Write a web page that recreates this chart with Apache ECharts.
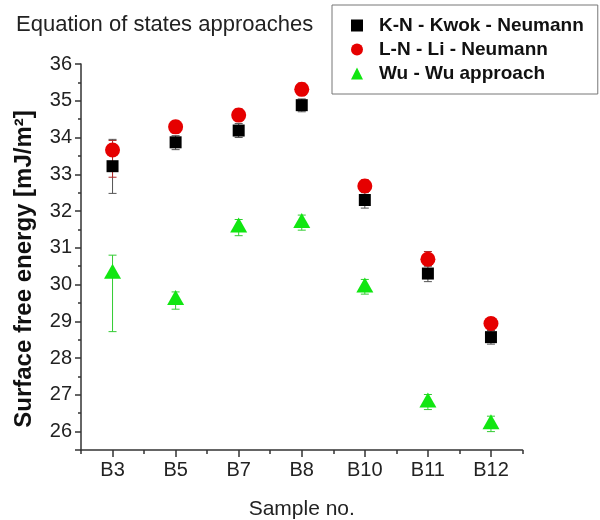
<!DOCTYPE html>
<html>
<head>
<meta charset="utf-8">
<script src="https://cdn.jsdelivr.net/npm/echarts@6/dist/echarts.min.js"></script>
<style>
html,body{margin:0;padding:0;background:#fff;}
#chart{width:600px;height:520px;}
</style>
</head>
<body>
<div id="chart"></div>
<script>
const categories = ['B3', 'B5', 'B7', 'B8', 'B10', 'B11', 'B12'];
const seriesNames = ['K-N - Kwok - Neumann', 'L-N - Li - Neumann', 'Wu - Wu approach'];
const knValues = [33.22, 33.87, 34.19, 34.88, 32.30, 30.30, 28.57];
const lnValues = [33.66, 34.29, 34.61, 35.31, 32.68, 30.69, 28.94];
const wuValues = [30.36, 29.65, 31.62, 31.74, 29.99, 26.86, 26.27];
const knLow  = [32.48, 33.67, 34.00, 34.70, 32.08, 30.08, 28.38];
const knHigh = [33.95, 34.05, 34.38, 35.05, 32.50, 30.50, 28.75];
const lnLow  = [32.92, 34.12, 34.45, 35.15, 32.52, 30.52, 28.80];
const lnHigh = [33.92, 34.45, 34.78, 35.48, 32.85, 30.90, 29.10];
const wuLow  = [28.72, 29.33, 31.33, 31.48, 29.74, 26.60, 26.00];
const wuHigh = [30.80, 29.80, 31.77, 31.89, 30.14, 27.01, 26.42];
const yMin = 25.5, yMax = 36;

const FONT = '"Liberation Sans", Arial, sans-serif';

function errSeries(low, high, color) {
  return {
    type: 'custom',
    xAxisIndex: 0, yAxisIndex: 0,
    z: 1,
    silent: true,
    data: categories.map((c, i) => [i, low[i], high[i]]),
    encode: { x: 0, y: [1, 2] },
    renderItem: function (params, api) {
      const xi = api.value(0);
      const lo = api.coord([xi, api.value(1)]);
      const hi = api.coord([xi, api.value(2)]);
      const w = 4;
      const st = { stroke: color, lineWidth: 1 };
      return {
        type: 'group',
        children: [
          { type: 'line', shape: { x1: lo[0], y1: lo[1], x2: hi[0], y2: hi[1] }, style: st },
          { type: 'line', shape: { x1: lo[0] - w, y1: lo[1], x2: lo[0] + w, y2: lo[1] }, style: st },
          { type: 'line', shape: { x1: hi[0] - w, y1: hi[1], x2: hi[0] + w, y2: hi[1] }, style: st }
        ]
      };
    }
  };
}

const chart = echarts.init(document.getElementById('chart'), null, { renderer: 'canvas' });
chart.setOption({
  animation: false,
  backgroundColor: '#fff',
  textStyle: { fontFamily: FONT },
  title: {
    text: 'Equation of states approaches',
    left: 11, top: 9,
    textStyle: { fontFamily: FONT, fontSize: 22, fontWeight: 'normal', color: '#222' }
  },
  legend: {
    data: seriesNames,
    orient: 'vertical',
    left: 332, top: 5,
    padding: [11, 14, 11, 19],
    itemGap: 5,
    itemWidth: 12, itemHeight: 12,
    borderColor: '#777', borderWidth: 1,
    textStyle: { fontFamily: FONT, fontSize: 19, fontWeight: 'bold', color: '#111', padding: [0, 0, 0, 11] }
  },
  grid: { left: 81, right: 77.5, top: 64, bottom: 70, containLabel: false, outerBoundsMode: 'none' },
  xAxis: [{
    type: 'category',
    data: categories,
    boundaryGap: true,
    position: 'bottom',
    name: 'Sample no.',
    nameLocation: 'middle',
    nameGap: 49,
    nameTextStyle: { fontFamily: FONT, fontSize: 21, color: '#222' },
    axisLine: { show: true, lineStyle: { color: '#333', width: 1.5 } },
    axisTick: { show: true, alignWithLabel: true, length: 7, lineStyle: { color: '#333', width: 1.5 } },
    axisLabel: { fontFamily: FONT, fontSize: 20, color: '#222', margin: 10 },
    splitLine: { show: false }
  }, {
    type: 'category',
    data: categories,
    boundaryGap: true,
    position: 'bottom',
    axisLine: { show: false },
    axisTick: { show: true, alignWithLabel: false, length: 4, lineStyle: { color: '#333', width: 1.5 } },
    axisLabel: { show: false },
    splitLine: { show: false }
  }],
  yAxis: [{
    type: 'value',
    min: yMin, max: yMax, interval: 0.5,
    position: 'left',
    name: 'Surface free energy [mJ/m²]',
    nameLocation: 'middle',
    nameGap: 45,
    nameTextStyle: { fontFamily: FONT, fontSize: 24, fontWeight: 'bold', color: '#111', padding: [0, 24, 0, 0] },
    axisLine: { show: true, lineStyle: { color: '#333', width: 1.5 } },
    axisTick: { show: true, length: 3, lineStyle: { color: '#333', width: 1.5 } },
    axisLabel: { show: false },
    splitLine: { show: false }
  }, {
    type: 'value',
    min: yMin, max: yMax, splitNumber: 10,
    position: 'left',
    offset: 0,
    axisLine: { show: false },
    axisTick: { show: true, length: 6, lineStyle: { color: '#333', width: 1.5 } },
    axisLabel: {
      fontFamily: FONT, fontSize: 20, color: '#222', margin: 9,
      formatter: function (v) { return Number.isInteger(v) ? String(v) : ''; }
    },
    splitLine: { show: false }
  }],
  series: [
    errSeries(wuLow, wuHigh, '#33cc33'),
    errSeries(knLow, knHigh, '#555555'),
    errSeries(lnLow, lnHigh, '#b02828'),
    {
      name: seriesNames[2], type: 'scatter', xAxisIndex: 0, yAxisIndex: 0, z: 3,
      symbol: 'triangle', symbolSize: [17, 15],
      itemStyle: { color: '#11e611', opacity: 1 },
      data: wuValues
    },
    {
      name: seriesNames[0], type: 'scatter', xAxisIndex: 0, yAxisIndex: 0, z: 3,
      symbol: 'rect', symbolSize: 12,
      itemStyle: { color: '#000000', opacity: 1 },
      data: knValues
    },
    {
      name: seriesNames[1], type: 'scatter', xAxisIndex: 0, yAxisIndex: 0, z: 4,
      symbol: 'circle', symbolSize: 15,
      itemStyle: { color: '#e60000', opacity: 1 },
      data: lnValues
    }
  ]
});
</script>
</body>
</html>
